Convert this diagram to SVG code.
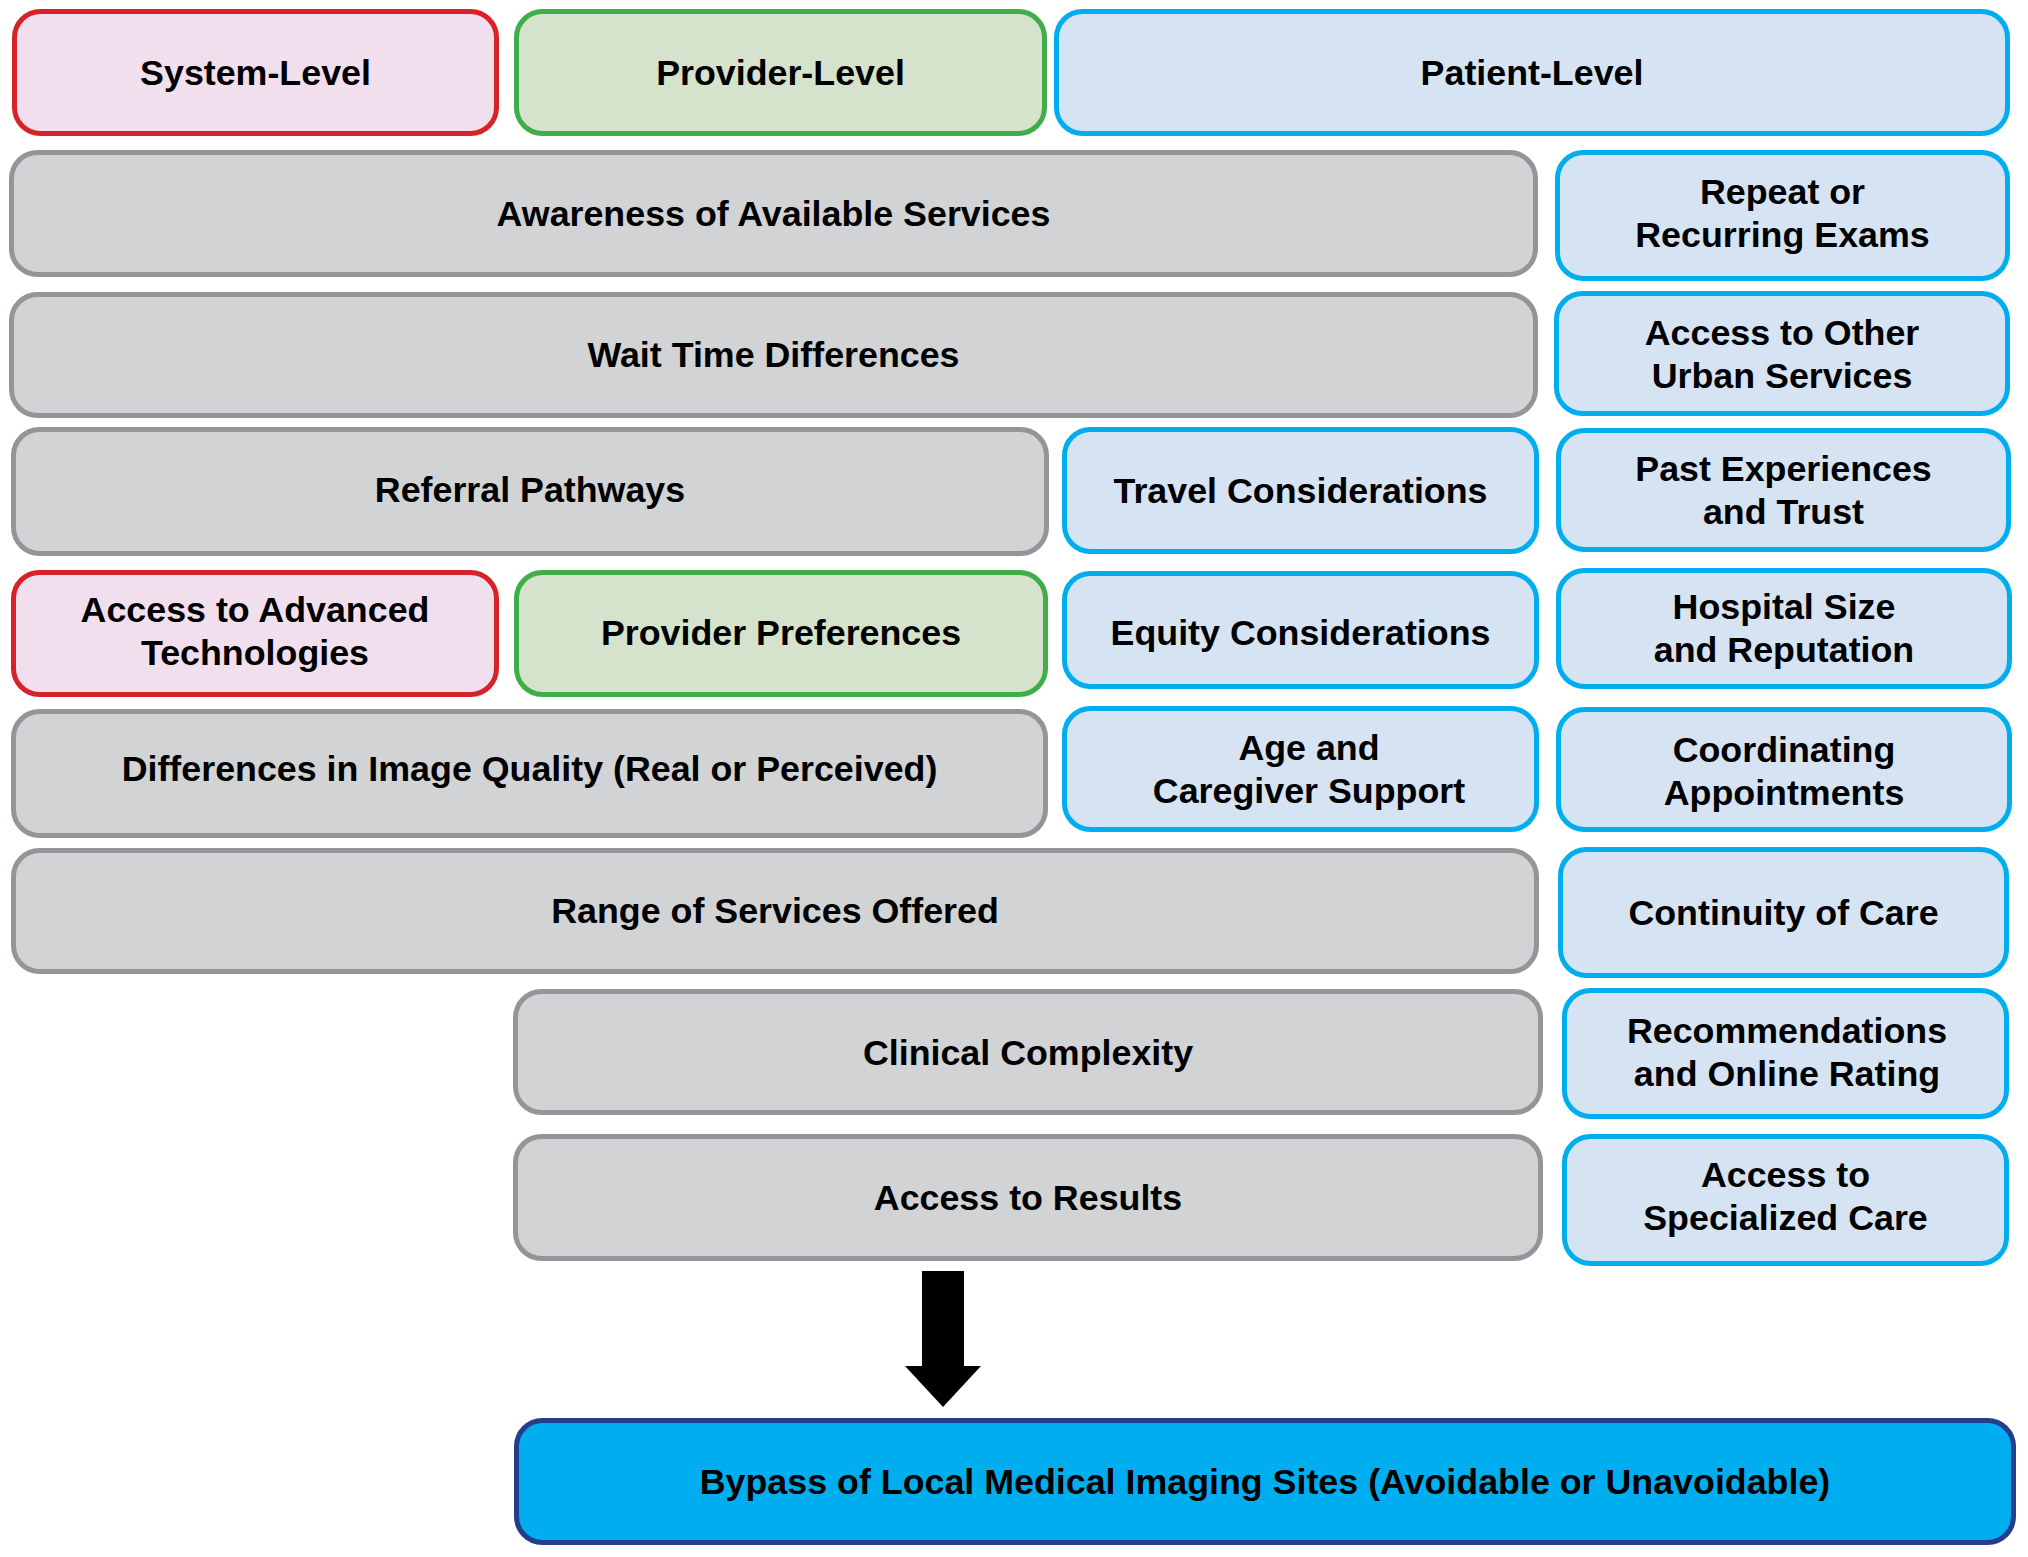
<svg xmlns="http://www.w3.org/2000/svg" width="2028" height="1557" viewBox="0 0 2028 1557">
<style>
rect{stroke-width:5}
.sys{fill:#F2DFED;stroke:#D6232A}
.prov{fill:#D6E3CC;stroke:#41AD49}
.pat{fill:#D6E3F2;stroke:#00AEEF}
.gray{fill:#D1D3D4;stroke:#939598}
.out{fill:#00AEEF;stroke:#253D8D}
text{font-family:"Liberation Sans",Arial,sans-serif;font-weight:bold;font-size:35.8px;fill:#000;text-anchor:middle}
</style>
<rect width="2028" height="1557" fill="#fff" stroke="none"/>
<g id="system-level"><rect class="sys" x="14.5" y="11.5" width="482" height="122" rx="26"/><text x="255.5" y="85.25">System-Level</text></g>
<g id="provider-level"><rect class="prov" x="516.5" y="11.5" width="528" height="122" rx="26"/><text x="780.5" y="85.25">Provider-Level</text></g>
<g id="patient-level"><rect class="pat" x="1056.5" y="11.5" width="951" height="122" rx="26"/><text x="1532" y="85.25">Patient-Level</text></g>
<g id="awareness"><rect class="gray" x="11.5" y="152.5" width="1524" height="122" rx="26"/><text x="773.5" y="226.25">Awareness of Available Services</text></g>
<g id="repeat"><rect class="pat" x="1557.5" y="152.5" width="450" height="126" rx="26"/><text x="1782.5" y="204.2">Repeat or</text><text x="1782.5" y="247.2">Recurring Exams</text></g>
<g id="wait"><rect class="gray" x="11.5" y="294.5" width="1524" height="121" rx="26"/><text x="773.5" y="366.5">Wait Time Differences</text></g>
<g id="other-urban"><rect class="pat" x="1556.5" y="293.5" width="451" height="120" rx="26"/><text x="1782" y="344.8">Access to Other</text><text x="1782" y="387.8">Urban Services</text></g>
<g id="referral"><rect class="gray" x="13.5" y="429.5" width="1033" height="124" rx="26"/><text x="530" y="501.7">Referral Pathways</text></g>
<g id="travel"><rect class="pat" x="1064.5" y="429.5" width="472" height="122" rx="26"/><text x="1300.5" y="503.25">Travel Considerations</text></g>
<g id="past"><rect class="pat" x="1558.5" y="430.5" width="450" height="119" rx="26"/><text x="1783.5" y="481.3">Past Experiences</text><text x="1783.5" y="524.3">and Trust</text></g>
<g id="advanced-tech"><rect class="sys" x="13.5" y="572.5" width="483" height="122" rx="26"/><text x="255" y="622.2">Access to Advanced</text><text x="255" y="665.2">Technologies</text></g>
<g id="provider-pref"><rect class="prov" x="516.5" y="572.5" width="529" height="122" rx="26"/><text x="781" y="645">Provider Preferences</text></g>
<g id="equity"><rect class="pat" x="1064.5" y="573.5" width="472" height="113" rx="26"/><text x="1300.5" y="645.4">Equity Considerations</text></g>
<g id="hospital"><rect class="pat" x="1558.5" y="570.5" width="451" height="116" rx="26"/><text x="1784" y="618.5">Hospital Size</text><text x="1784" y="661.5">and Reputation</text></g>
<g id="image-quality"><rect class="gray" x="13.5" y="711.5" width="1032" height="124" rx="26"/><text x="529.5" y="781">Differences in Image Quality (Real or Perceived)</text></g>
<g id="age"><rect class="pat" x="1064.5" y="708.5" width="472" height="121" rx="26"/><text x="1309" y="760.3">Age and</text><text x="1309" y="803.3">Caregiver Support</text></g>
<g id="coordinating"><rect class="pat" x="1558.5" y="709.5" width="451" height="120" rx="26"/><text x="1784" y="762">Coordinating</text><text x="1784" y="805">Appointments</text></g>
<g id="range"><rect class="gray" x="13.5" y="850.5" width="1523" height="121" rx="26"/><text x="775" y="922.5">Range of Services Offered</text></g>
<g id="continuity"><rect class="pat" x="1560.5" y="849.5" width="446" height="126" rx="26"/><text x="1783.5" y="925.25">Continuity of Care</text></g>
<g id="clinical"><rect class="gray" x="515.5" y="991.5" width="1025" height="121" rx="26"/><text x="1028" y="1064.75">Clinical Complexity</text></g>
<g id="recommendations"><rect class="pat" x="1564.5" y="990.5" width="442" height="126" rx="26"/><text x="1787" y="1042.5">Recommendations</text><text x="1787" y="1085.5">and Online Rating</text></g>
<g id="results"><rect class="gray" x="515.5" y="1136.5" width="1025" height="122" rx="26"/><text x="1028" y="1210.25">Access to Results</text></g>
<g id="specialized"><rect class="pat" x="1564.5" y="1136.5" width="442" height="127" rx="26"/><text x="1785.5" y="1187.4">Access to</text><text x="1785.5" y="1230.4">Specialized Care</text></g>
<g id="connectors"><polygon points="922,1271 964,1271 964,1366 981,1366 943,1407 905,1366 922,1366" fill="#000"/></g>
<g id="bypass"><rect class="out" x="516.5" y="1420.5" width="1497" height="122" rx="26"/><text x="1265" y="1494.25">Bypass of Local Medical Imaging Sites (Avoidable or Unavoidable)</text></g>
</svg>
